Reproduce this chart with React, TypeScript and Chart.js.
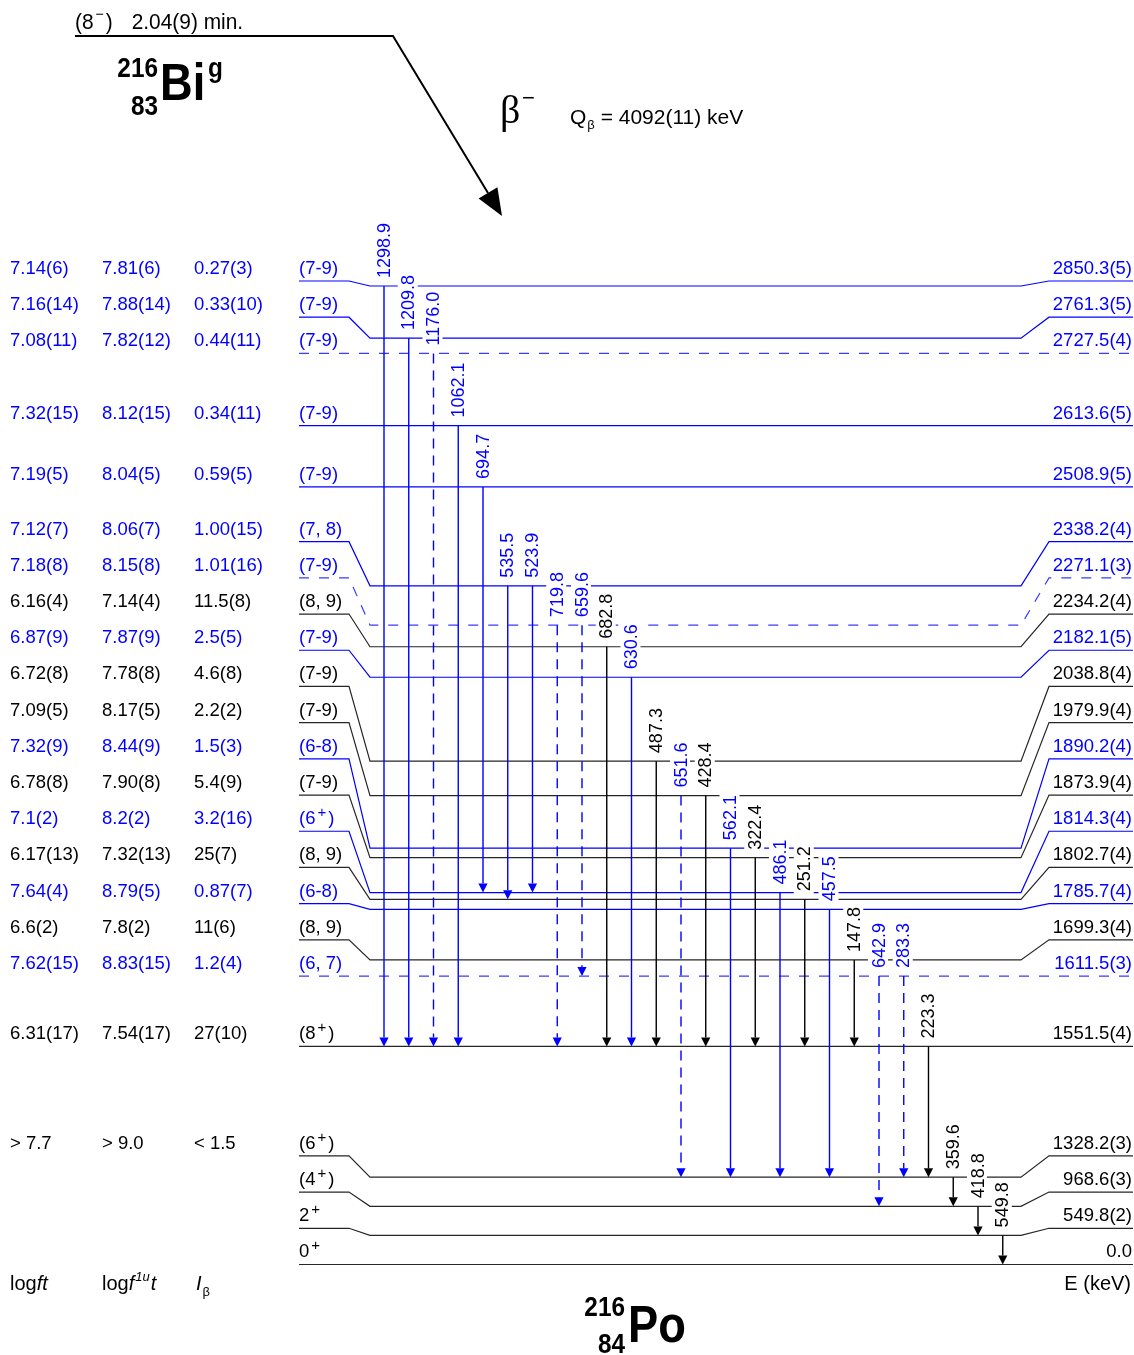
import React, { useEffect, useRef } from "react";
import { Chart, registerables } from "chart.js";

Chart.register(...registerables);

// ---- 216Po levels fed in the beta-minus decay of 216Bi (listed top to bottom) ----
const levelEnergies = [
  2850.3, 2761.3, 2727.5, 2613.6, 2508.9, 2338.2, 2271.1, 2234.2, 2182.1, 2038.8, 1979.9, 1890.2,
  1873.9, 1814.3, 1802.7, 1785.7, 1699.3, 1611.5, 1551.5, 1328.2, 968.6, 549.8, 0.0,
];
const levelEnergyLabels = [
  "2850.3(5)", "2761.3(5)", "2727.5(4)", "2613.6(5)", "2508.9(5)", "2338.2(4)", "2271.1(3)",
  "2234.2(4)", "2182.1(5)", "2038.8(4)", "1979.9(4)", "1890.2(4)", "1873.9(4)", "1814.3(4)",
  "1802.7(4)", "1785.7(4)", "1699.3(4)", "1611.5(3)", "1551.5(4)", "1328.2(3)", "968.6(3)",
  "549.8(2)", "0.0",
];
// "^" marks the parity sign written as a superscript
const levelSpins = [
  "(7-9)", "(7-9)", "(7-9)", "(7-9)", "(7-9)", "(7, 8)", "(7-9)", "(8, 9)", "(7-9)", "(7-9)",
  "(7-9)", "(6-8)", "(7-9)", "(6^+)", "(8, 9)", "(6-8)", "(8, 9)", "(6, 7)", "(8^+)", "(6^+)",
  "(4^+)", "2^+", "0^+",
];
const logFt = [
  "7.14(6)", "7.16(14)", "7.08(11)", "7.32(15)", "7.19(5)", "7.12(7)", "7.18(8)", "6.16(4)",
  "6.87(9)", "6.72(8)", "7.09(5)", "7.32(9)", "6.78(8)", "7.1(2)", "6.17(13)", "7.64(4)", "6.6(2)",
  "7.62(15)", "6.31(17)", "> 7.7", "", "", "",
];
const logF1ut = [
  "7.81(6)", "7.88(14)", "7.82(12)", "8.12(15)", "8.04(5)", "8.06(7)", "8.15(8)", "7.14(4)",
  "7.87(9)", "7.78(8)", "8.17(5)", "8.44(9)", "7.90(8)", "8.2(2)", "7.32(13)", "8.79(5)", "7.8(2)",
  "8.83(15)", "7.54(17)", "> 9.0", "", "", "",
];
const betaFeeding = [
  "0.27(3)", "0.33(10)", "0.44(11)", "0.34(11)", "0.59(5)", "1.00(15)", "1.01(16)", "11.5(8)",
  "2.5(5)", "4.6(8)", "2.2(2)", "1.5(3)", "5.4(9)", "3.2(16)", "25(7)", "0.87(7)", "11(6)",
  "1.2(4)", "27(10)", "< 1.5", "", "", "",
];
const levelIsNew = [
  true, true, true, true, true, true, true, false, true, false, false, true,
  false, true, false, true, false, true, false, false, false, false, false,
];
const levelIsTentative = [
  false, false, true, false, false, false, true, false, false, false, false, false,
  false, false, false, false, false, true, false, false, false, false, false,
];

// ---- gamma transitions (left to right) ----
const gammaLabels = [
  "1298.9", "1209.8", "1176.0", "1062.1", "694.7", "535.5", "523.9", "719.8", "659.6", "682.8",
  "630.6", "487.3", "651.6", "428.4", "562.1", "322.4", "486.1", "251.2", "457.5", "147.8",
  "642.9", "283.3", "223.3", "359.6", "418.8", "549.8",
];
const gammaFrom = [
  2850.3, 2761.3, 2727.5, 2613.6, 2508.9, 2338.2, 2338.2, 2271.1, 2271.1, 2234.2, 2182.1, 2038.8,
  1979.9, 1979.9, 1890.2, 1873.9, 1814.3, 1802.7, 1785.7, 1699.3, 1611.5, 1611.5, 1551.5, 1328.2,
  968.6, 549.8,
];
const gammaTo = [
  1551.5, 1551.5, 1551.5, 1551.5, 1814.3, 1802.7, 1814.3, 1551.5, 1611.5, 1551.5, 1551.5, 1551.5,
  1328.2, 1551.5, 1328.2, 1551.5, 1328.2, 1551.5, 1328.2, 1551.5, 968.6, 1328.2, 1328.2, 968.6,
  549.8, 0.0,
];
const gammaIsNew = [
  true, true, true, true, true, true, true, true, true, false, true, false, true,
  false, true, false, true, false, true, false, true, true, false, false, false, false,
];
const gammaIsTentative = [
  false, false, true, false, false, false, false, true, true, false, false, false, true,
  false, false, false, false, false, false, false, true, true, false, false, false, false,
];

// ---- drawing geometry ----
const W = 1134;
const H = 1355;
const Y_TOP_KEV = 3338.8;
const Y_BOTTOM_KEV = 1024.5;
const KEV_PER_PX = (Y_TOP_KEV - Y_BOTTOM_KEV) / H;
const BREAK_KEV = 1328.2; // levels below this one sit on a compressed, equally spaced part of the axis
const BREAK_STEP_KEV = 49.7;
const ROW_PITCH_PX = 36.2;
// label rows are stacked at a fixed pitch starting from an anchor level
const ROW_STACKS = [
  { first: 0, last: 2, from: "top", shift: -5 },
  { first: 3, last: 3, from: "top", shift: 1 },
  { first: 4, last: 4, from: "top", shift: 1 },
  { first: 5, last: 17, from: "top", shift: -44.2 },
  { first: 18, last: 18, from: "top", shift: 0 },
  { first: 19, last: 22, from: "bottom", shift: 0 },
];
// levels drawn flat on their label row
const FLAT_LEVELS = [2, 3, 4, 17, 18, 22];

const X_LINE_START = 299;
const X_KNEE_IN = 349;
const X_BODY_START = 370;
const X_BODY_END = 1021;
const X_KNEE_OUT = 1049;
const X_LINE_END = 1133;
const X_GAMMA_FIRST = 384;
const X_GAMMA_STEP = 24.75;
const X_LOGFT = 10;
const X_LOGF1U = 102;
const X_IB = 194;
const X_SPIN = 299;
const X_ENERGY = 1132;

const BLUE = "#0000ff";
const DASH_BLUE = "#3a3aff";
const INK = "#000000";
const LEVEL_INK = "#262626";
const FONT = "'Liberation Sans', Arial, Helvetica, sans-serif";
const SERIF = "'Liberation Serif', 'Times New Roman', serif";
const TEXT_PX = 18.5;
const ARROW_PX = 9;

// position of each level on the energy axis (compressed below the break)
const axisEnergy = (() => {
  let k = 0;
  return levelEnergies.map((e) => (e >= BREAK_KEV ? e : BREAK_KEV - BREAK_STEP_KEV * ++k));
})();

const rowValue: number[] = levelEnergies.map(() => 0);
for (const s of ROW_STACKS) {
  const pitch = ROW_PITCH_PX * KEV_PER_PX;
  if (s.from === "top") {
    const a = axisEnergy[s.first] - s.shift * KEV_PER_PX;
    for (let i = s.first; i <= s.last; i++) rowValue[i] = a - (i - s.first) * pitch;
  } else {
    const a = axisEnergy[s.last] - s.shift * KEV_PER_PX;
    for (let i = s.first; i <= s.last; i++) rowValue[i] = a + (s.last - i) * pitch;
  }
}
const lineValue = levelEnergies.map((_, i) => (FLAT_LEVELS.includes(i) ? rowValue[i] : axisEnergy[i]));
const levelIndex = (e: number) => levelEnergies.indexOf(e);
const gammaX = (j: number) => X_GAMMA_FIRST + j * X_GAMMA_STEP;

type Run = { text: string; size: number; italic?: boolean; bold?: boolean; dy?: number; gap?: number; family?: string };

function fontOf(r: Run) {
  return `${r.italic ? "italic " : ""}${r.bold ? "bold " : ""}${r.size}px ${r.family ?? FONT}`;
}

function drawRuns(
  ctx: CanvasRenderingContext2D,
  runs: Run[],
  x: number,
  y: number,
  color: string,
  align: "left" | "right" = "left",
  sx = 1
) {
  let total = 0;
  for (const r of runs) {
    ctx.font = fontOf(r);
    total += (r.gap ?? 0) + ctx.measureText(r.text).width;
  }
  ctx.save();
  ctx.translate(align === "right" ? x - total * sx : x, y);
  ctx.scale(sx, 1);
  ctx.fillStyle = color;
  ctx.textAlign = "left";
  ctx.textBaseline = "alphabetic";
  let cx = 0;
  for (const r of runs) {
    ctx.font = fontOf(r);
    cx += r.gap ?? 0;
    ctx.fillText(r.text, cx, r.dy ?? 0);
    cx += ctx.measureText(r.text).width;
  }
  ctx.restore();
}

function spinRuns(s: string): Run[] {
  const parts = s.split("^");
  if (parts.length === 1) return [{ text: s, size: TEXT_PX }];
  return [
    { text: parts[0], size: TEXT_PX },
    { text: parts[1].charAt(0), size: 15, dy: -7, gap: 2 },
    { text: parts[1].slice(1), size: TEXT_PX, gap: 2 },
  ];
}

const schemePlugin = {
  id: "levelScheme",
  beforeDraw(chart: any) {
    const ctx: CanvasRenderingContext2D = chart.ctx;
    ctx.save();
    ctx.fillStyle = "#ffffff";
    ctx.fillRect(0, 0, chart.width, chart.height);
    ctx.restore();
  },
  afterDatasetsDraw(chart: any) {
    const ctx: CanvasRenderingContext2D = chart.ctx;
    const xs = chart.scales.x;
    const ys = chart.scales.y;

    // arrowheads
    gammaLabels.forEach((_, j) => {
      const px = xs.getPixelForValue(gammaX(j));
      const tip = ys.getPixelForValue(lineValue[levelIndex(gammaTo[j])]);
      ctx.save();
      ctx.fillStyle = gammaIsNew[j] ? BLUE : INK;
      ctx.beginPath();
      ctx.moveTo(px, tip);
      ctx.lineTo(px - 4.6, tip - ARROW_PX);
      ctx.lineTo(px + 4.6, tip - ARROW_PX);
      ctx.closePath();
      ctx.fill();
      ctx.restore();
    });

    // rotated gamma energies, knocked out of the level lines behind them
    gammaLabels.forEach((g, j) => {
      const px = xs.getPixelForValue(gammaX(j));
      const start = ys.getPixelForValue(lineValue[levelIndex(gammaFrom[j])]) - 8;
      ctx.save();
      ctx.font = `18px ${FONT}`;
      const w = ctx.measureText(g).width;
      ctx.translate(px, start);
      ctx.rotate(-Math.PI / 2);
      ctx.fillStyle = "#ffffff";
      ctx.fillRect(-3, -11, w + 6, 20);
      ctx.fillStyle = gammaIsNew[j] ? BLUE : INK;
      ctx.textBaseline = "alphabetic";
      ctx.textAlign = "left";
      ctx.fillText(g, 0, 5.5);
      ctx.restore();
    });

    // level annotations
    levelEnergies.forEach((_, i) => {
      const row = ys.getPixelForValue(rowValue[i]);
      const base = row - 7;
      const color = levelIsNew[i] ? BLUE : INK;
      if (logFt[i]) drawRuns(ctx, [{ text: logFt[i], size: TEXT_PX }], xs.getPixelForValue(X_LOGFT), base, color);
      if (logF1ut[i]) drawRuns(ctx, [{ text: logF1ut[i], size: TEXT_PX }], xs.getPixelForValue(X_LOGF1U), base, color);
      if (betaFeeding[i]) drawRuns(ctx, [{ text: betaFeeding[i], size: TEXT_PX }], xs.getPixelForValue(X_IB), base, color);
      drawRuns(ctx, spinRuns(levelSpins[i]), xs.getPixelForValue(X_SPIN), base, color);
      drawRuns(ctx, [{ text: levelEnergyLabels[i], size: TEXT_PX }], xs.getPixelForValue(X_ENERGY), base, color, "right");
    });
  },
  afterDraw(chart: any) {
    const ctx: CanvasRenderingContext2D = chart.ctx;

    // parent state and beta branch
    drawRuns(
      ctx,
      [
        { text: "(8", size: 22 },
        { text: "\u2212", size: 15, dy: -10, gap: 2 },
        { text: ")", size: 22, gap: 2 },
        { text: "2.04(9) min.", size: 22, gap: 20 },
      ],
      75,
      29,
      INK,
      "left",
      0.95
    );
    ctx.save();
    ctx.strokeStyle = INK;
    ctx.lineWidth = 2;
    ctx.beginPath();
    ctx.moveTo(75, 36);
    ctx.lineTo(393, 36);
    const tipX = 502;
    const tipY = 216;
    const dx = tipX - 393;
    const dy = tipY - 36;
    const len = Math.hypot(dx, dy);
    const ux = dx / len;
    const uy = dy / len;
    const headLen = 27;
    const headHalf = 11;
    const bx = tipX - ux * headLen;
    const by = tipY - uy * headLen;
    ctx.lineTo(bx, by);
    ctx.stroke();
    ctx.fillStyle = INK;
    ctx.beginPath();
    ctx.moveTo(tipX, tipY);
    ctx.lineTo(bx - uy * headHalf, by + ux * headHalf);
    ctx.lineTo(bx + uy * headHalf, by - ux * headHalf);
    ctx.closePath();
    ctx.fill();
    ctx.restore();

    drawRuns(ctx, [{ text: "\u03b2", size: 40, family: SERIF }], 500, 123, INK);
    drawRuns(ctx, [{ text: "\u2212", size: 22 }], 522, 105, INK);
    drawRuns(
      ctx,
      [
        { text: "Q", size: 21 },
        { text: "\u03b2", size: 13, dy: 5, gap: 1 },
        { text: " = 4092(11) keV", size: 21 },
      ],
      570,
      124,
      INK
    );

    // parent nucleus
    drawRuns(ctx, [{ text: "216", size: 28, bold: true }], 158, 77, INK, "right", 0.87);
    drawRuns(ctx, [{ text: "83", size: 28, bold: true }], 158, 115, INK, "right", 0.87);
    drawRuns(ctx, [{ text: "Bi", size: 52, bold: true }], 160, 100, INK, "left", 0.87);
    drawRuns(ctx, [{ text: "g", size: 28, bold: true }], 208, 77, INK, "left", 0.87);

    // column headings
    drawRuns(ctx, [{ text: "log", size: 20 }, { text: "ft", size: 20, italic: true }], 10, 1290, INK);
    drawRuns(
      ctx,
      [
        { text: "log", size: 20 },
        { text: "f", size: 20, italic: true },
        { text: "1u", size: 13, italic: true, dy: -9, gap: 1 },
        { text: "t", size: 20, italic: true, gap: 1 },
      ],
      102,
      1290,
      INK
    );
    drawRuns(
      ctx,
      [
        { text: "I", size: 20, italic: true },
        { text: "\u03b2", size: 13, dy: 6, gap: 1 },
      ],
      196,
      1290,
      INK
    );
    drawRuns(ctx, [{ text: "E (keV)", size: 20 }], 1131, 1290, INK, "right");

    // daughter nucleus
    drawRuns(ctx, [{ text: "216", size: 28, bold: true }], 625, 1316, INK, "right", 0.87);
    drawRuns(ctx, [{ text: "84", size: 28, bold: true }], 625, 1353, INK, "right", 0.87);
    drawRuns(ctx, [{ text: "Po", size: 52, bold: true }], 628, 1342, INK, "left", 0.87);
  },
};

export default function App() {
  const canvasRef = useRef<HTMLCanvasElement>(null);

  useEffect(() => {
    const canvas = canvasRef.current;
    if (!canvas) return;

    const gammaDatasets = gammaLabels.map((g, j) => {
      const x = gammaX(j);
      const fromV = lineValue[levelIndex(gammaFrom[j])];
      const toV = lineValue[levelIndex(gammaTo[j])] + ARROW_PX * KEV_PER_PX;
      return {
        label: g,
        data: [
          { x, y: fromV },
          { x, y: toV },
        ],
        showLine: true,
        borderColor: gammaIsNew[j] ? BLUE : INK,
        borderWidth: 1.4,
        borderDash: gammaIsTentative[j] ? [10, 7] : [],
        borderCapStyle: "butt",
        pointRadius: 0,
        tension: 0,
        fill: false,
      };
    });

    const levelDatasets = levelEnergies.map((_, i) => ({
      label: levelEnergyLabels[i],
      data: [
        { x: X_LINE_START, y: rowValue[i] },
        { x: X_KNEE_IN, y: rowValue[i] },
        { x: X_BODY_START, y: lineValue[i] },
        { x: X_BODY_END, y: lineValue[i] },
        { x: X_KNEE_OUT, y: rowValue[i] },
        { x: X_LINE_END, y: rowValue[i] },
      ],
      showLine: true,
      borderColor: levelIsNew[i] ? (levelIsTentative[i] ? DASH_BLUE : BLUE) : LEVEL_INK,
      borderWidth: 1.2,
      borderDash: levelIsTentative[i] ? [10, 10] : [],
      borderCapStyle: "butt",
      borderJoinStyle: "miter",
      pointRadius: 0,
      tension: 0,
      fill: false,
    }));

    const chart = new Chart(canvas, {
      type: "scatter",
      data: { datasets: [...gammaDatasets, ...levelDatasets] as any },
      options: {
        animation: false,
        responsive: false,
        devicePixelRatio: 1,
        events: [],
        layout: { padding: 0 },
        plugins: {
          legend: { display: false },
          tooltip: { enabled: false },
          title: { display: false },
        },
        scales: {
          x: { type: "linear", display: false, min: 0, max: W },
          y: { type: "linear", display: false, min: Y_BOTTOM_KEV, max: Y_TOP_KEV },
        },
      },
      plugins: [schemePlugin],
    });

    return () => chart.destroy();
  }, []);

  return (
    <div style={{ position: "absolute", left: 0, top: 0, width: W, height: H, background: "#ffffff" }}>
      <canvas ref={canvasRef} width={W} height={H} style={{ display: "block" }} />
    </div>
  );
}
